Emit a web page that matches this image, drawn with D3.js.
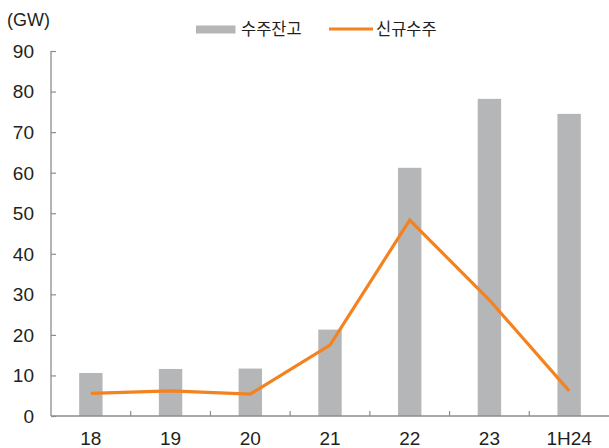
<!DOCTYPE html>
<html>
<head>
<meta charset="utf-8">
<script src="https://cdn.jsdelivr.net/npm/d3@7"></script>
<style>
  html, body { margin: 0; padding: 0; background: #fff; }
  svg { display: block; }
  text { font-family: "Liberation Sans", "Noto Sans CJK KR", sans-serif; fill: #231f20; }
  .kr { font-family: "Noto Sans CJK KR", sans-serif; }
</style>
</head>
<body>
<svg id="chart" width="609" height="448"></svg>
<script>
// Categories and values (GW)
const categories = ["18", "19", "20", "21", "22", "23", "1H24"];
const backlog = [10.6, 11.6, 11.7, 21.3, 61.2, 78.2, 74.5];   // 수주잔고
const newOrders = [5.6, 6.2, 5.4, 17.5, 48.3, 28.6, 6.2];      // 신규수주
const yTicks = [0, 10, 20, 30, 40, 50, 60, 70, 80, 90];
const seriesNames = ["수주잔고", "신규수주"];
const unitLabel = "(GW)";

const svg = d3.select("#chart");
const margin = { left: 51, right: 0, top: 51, bottom: 32 };
const W = 609, H = 448;

const x = d3.scaleBand().domain(categories).range([margin.left, W - margin.right]).paddingInner(0).paddingOuter(0);
const y = d3.scaleLinear().domain([0, 90]).range([H - margin.bottom, margin.top]);

const barColor = "#b5b6b8";
const lineColor = "#f4821f";
const axisColor = "#8c8c8c";
const barW = 23.4;

// Bars
svg.append("g").selectAll("rect").data(categories).join("rect")
  .attr("x", (d) => x(d) + x.bandwidth() / 2 - barW / 2)
  .attr("width", barW)
  .attr("y", (d, i) => y(backlog[i]))
  .attr("height", (d, i) => y(0) - y(backlog[i]))
  .attr("fill", barColor);

// Y axis
const yAxis = svg.append("g").attr("transform", `translate(${margin.left},0)`)
  .call(d3.axisRight(y).tickValues(yTicks).tickSize(5).tickFormat(""));
yAxis.select(".domain").attr("stroke", axisColor).attr("stroke-width", 1.3).attr("d", `M0,${y(90)}V${y(0)}`);
yAxis.selectAll(".tick line").attr("stroke", axisColor).attr("stroke-width", 1.2);

svg.append("g").selectAll("text").data(yTicks).join("text")
  .attr("x", 34).attr("y", (d) => y(d))
  .attr("dy", "0.36em")
  .attr("text-anchor", "end")
  .attr("font-size", 19)
  .text((d) => d);

// X axis: ticks at category boundaries
const bounds = categories.slice(1).map((c) => x(c));
const xg = svg.append("g");
xg.append("line").attr("x1", margin.left).attr("x2", W).attr("y1", y(0)).attr("y2", y(0))
  .attr("stroke", axisColor).attr("stroke-width", 1.3);
xg.selectAll("line.t").data(bounds).join("line").attr("class", "t")
  .attr("x1", (d) => d).attr("x2", (d) => d)
  .attr("y1", y(0)).attr("y2", y(0) - 5)
  .attr("stroke", axisColor).attr("stroke-width", 1.2);

svg.append("g").selectAll("text").data(categories).join("text")
  .attr("x", (d) => x(d) + x.bandwidth() / 2)
  .attr("y", 445)
  .attr("text-anchor", "middle")
  .attr("font-size", 19)
  .text((d) => d);

// Line
const line = d3.line()
  .x((d, i) => x(categories[i]) + x.bandwidth() / 2)
  .y((d) => y(d));
svg.append("path").datum(newOrders)
  .attr("d", line)
  .attr("fill", "none")
  .attr("stroke", lineColor)
  .attr("stroke-width", 3.2)
  .attr("stroke-linejoin", "miter");

// Unit label
svg.append("text").attr("x", 7).attr("y", 26).attr("font-size", 18).text(unitLabel);

// Legend
const lg = svg.append("g");
lg.append("rect").attr("x", 196).attr("y", 25.5).attr("width", 39.5).attr("height", 8).attr("fill", barColor);
lg.append("text").attr("class", "kr").attr("x", 241).attr("y", 34.5).attr("font-size", 16.5).text(seriesNames[0]);
lg.append("line").attr("x1", 329).attr("x2", 373).attr("y1", 29).attr("y2", 29)
  .attr("stroke", lineColor).attr("stroke-width", 3.2);
lg.append("text").attr("class", "kr").attr("x", 376).attr("y", 34.5).attr("font-size", 16.5).text(seriesNames[1]);
</script>
</body>
</html>
